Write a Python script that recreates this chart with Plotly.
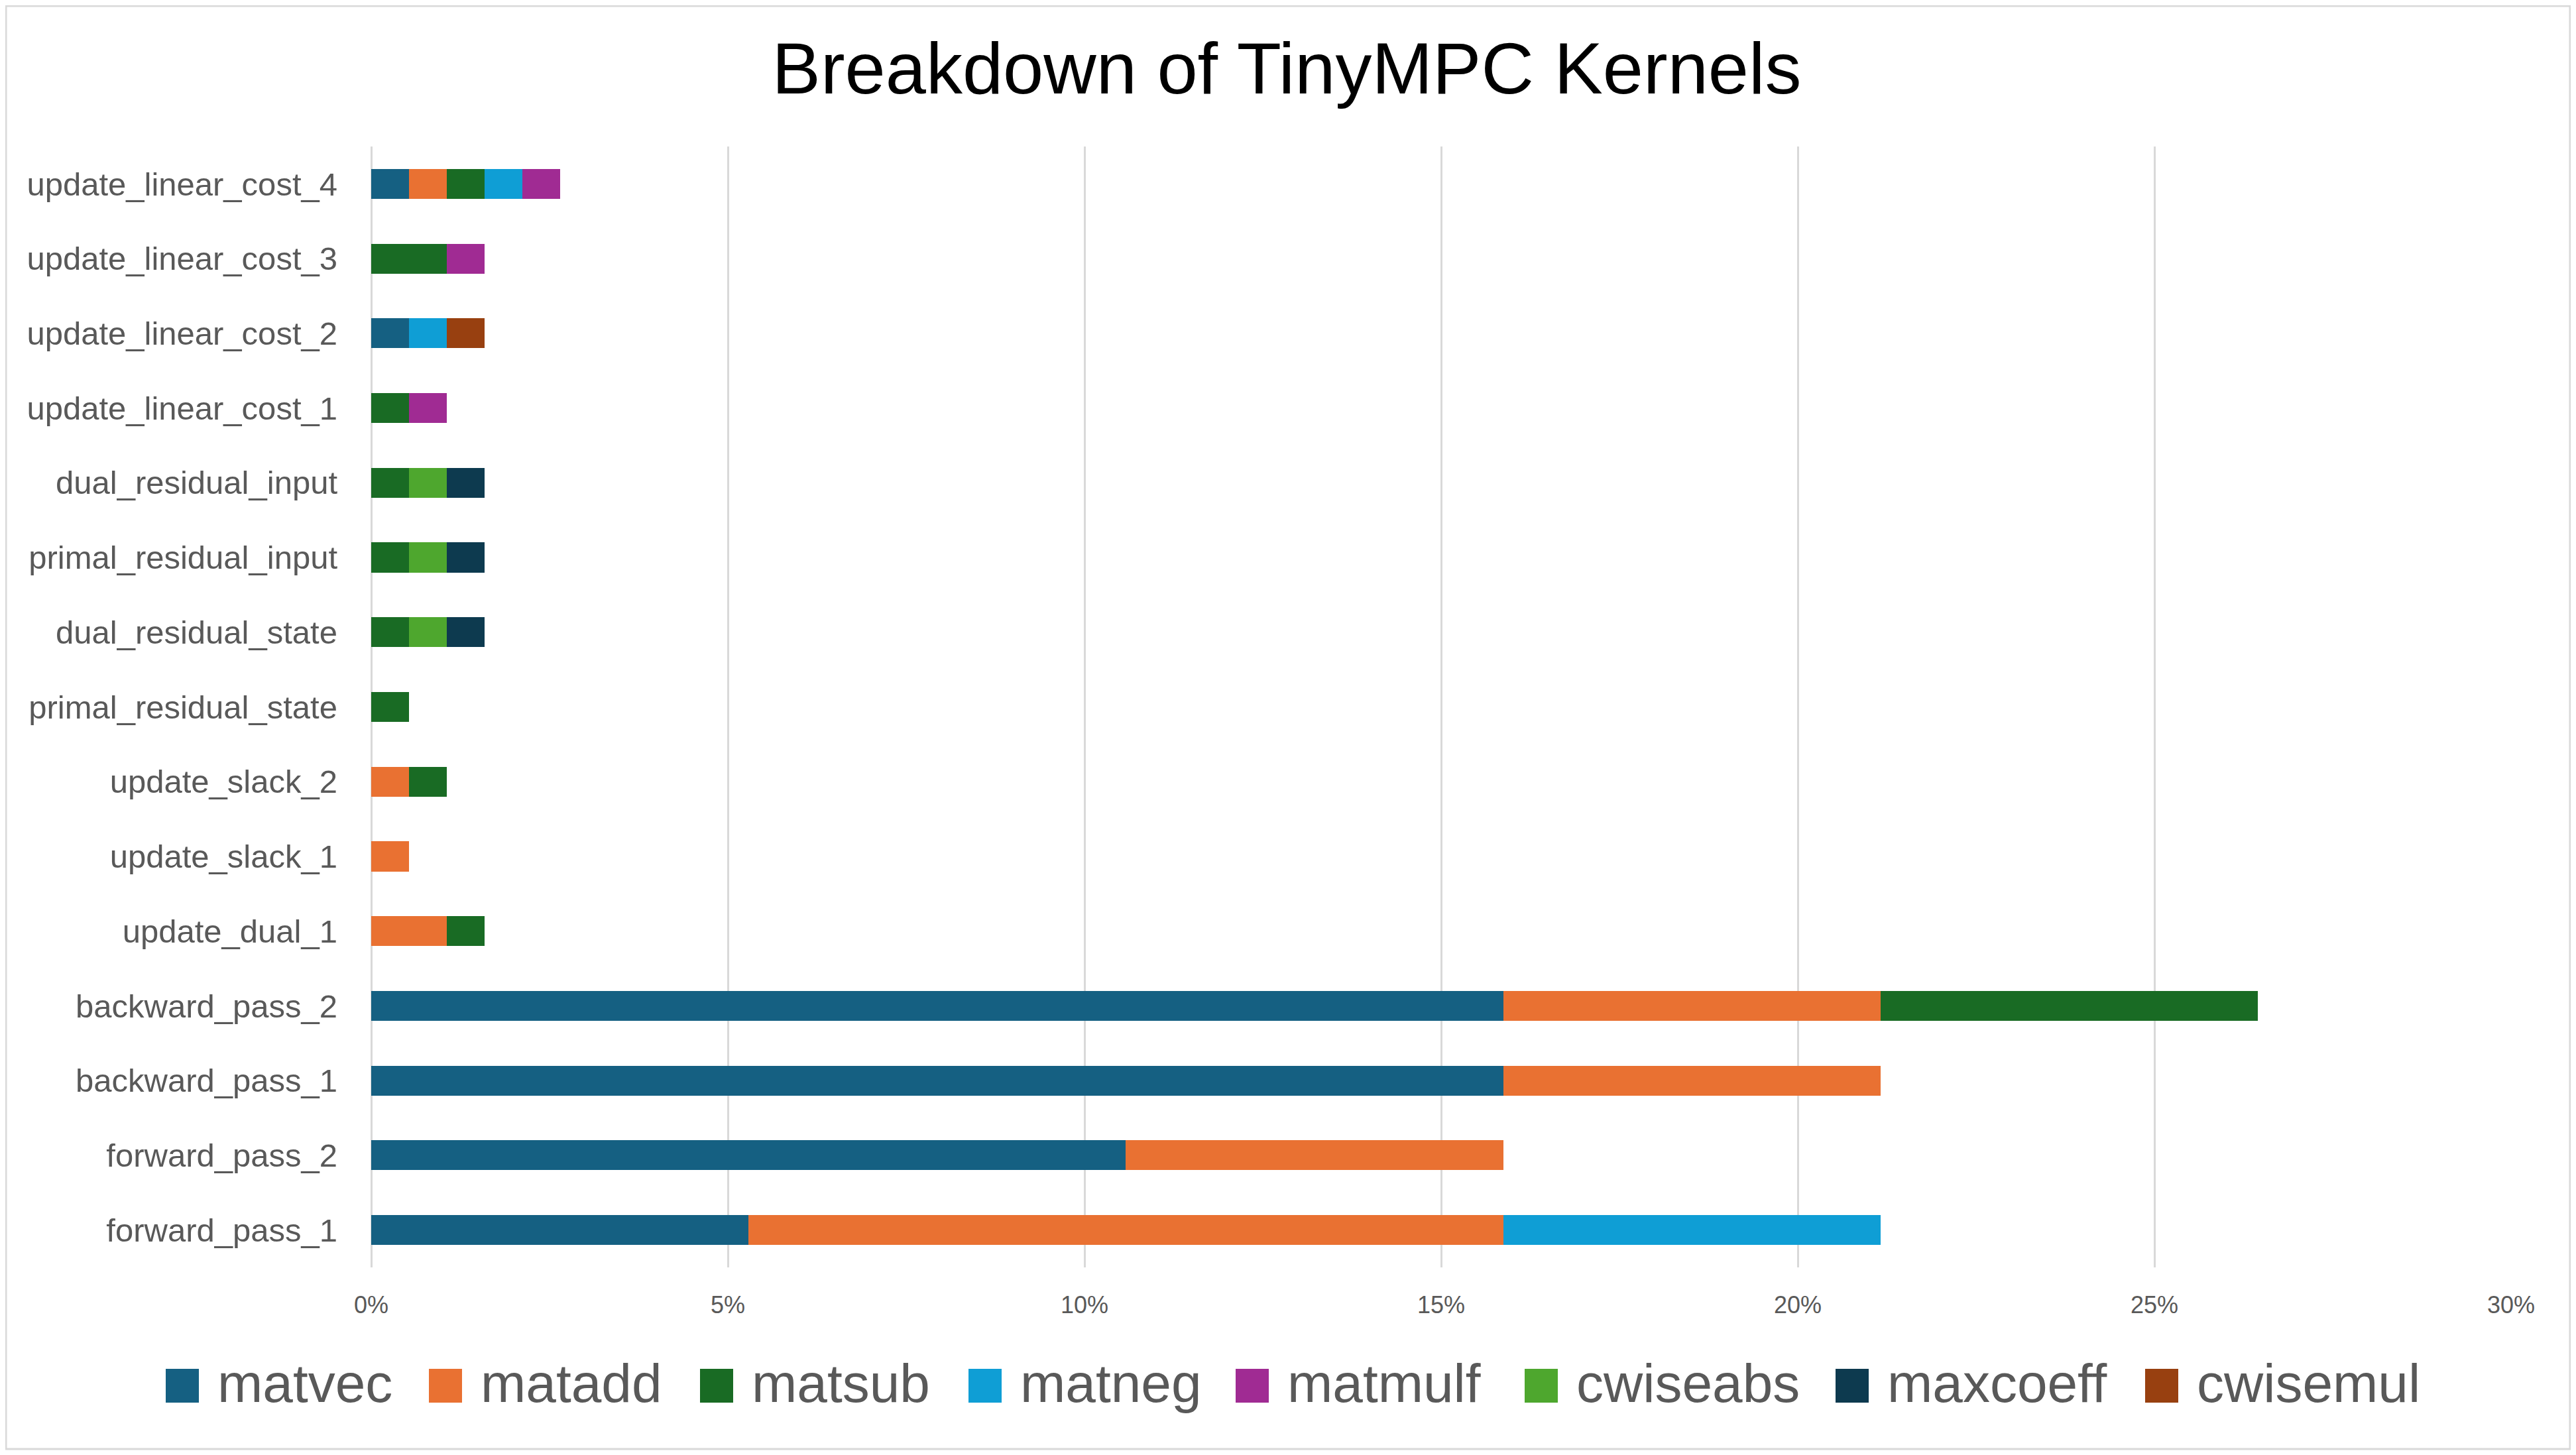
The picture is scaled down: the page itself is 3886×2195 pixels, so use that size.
import plotly.graph_objects as go

categories = ["forward_pass_1", "forward_pass_2", "backward_pass_1", "backward_pass_2",
              "update_dual_1", "update_slack_1", "update_slack_2", "primal_residual_state",
              "dual_residual_state", "primal_residual_input", "dual_residual_input",
              "update_linear_cost_1", "update_linear_cost_2", "update_linear_cost_3",
              "update_linear_cost_4"]

series_names = ["matvec", "matadd", "matsub", "matneg", "matmulf", "cwiseabs", "maxcoeff", "cwisemul"]

matvec   = [5.29, 10.58, 15.87, 15.87, 0, 0, 0, 0, 0, 0, 0, 0, 0.53, 0, 0.53]
matadd   = [10.58, 5.29, 5.29, 5.29, 1.06, 0.53, 0.53, 0, 0, 0, 0, 0, 0, 0, 0.53]
matsub   = [0, 0, 0, 5.29, 0.53, 0, 0.53, 0.53, 0.53, 0.53, 0.53, 0.53, 0, 1.06, 0.53]
matneg   = [5.29, 0, 0, 0, 0, 0, 0, 0, 0, 0, 0, 0, 0.53, 0, 0.53]
matmulf  = [0, 0, 0, 0, 0, 0, 0, 0, 0, 0, 0, 0.53, 0, 0.53, 0.53]
cwiseabs = [0, 0, 0, 0, 0, 0, 0, 0, 0.53, 0.53, 0.53, 0, 0, 0, 0]
maxcoeff = [0, 0, 0, 0, 0, 0, 0, 0, 0.53, 0.53, 0.53, 0, 0, 0, 0]
cwisemul = [0, 0, 0, 0, 0, 0, 0, 0, 0, 0, 0, 0, 0.53, 0, 0]

x_tick_vals = [0, 5, 10, 15, 20, 25, 30]
x_tick_text = ["0%", "5%", "10%", "15%", "20%", "25%", "30%"]

colors = ["#156082", "#E97132", "#196B24", "#0F9ED5", "#A02B93", "#4EA72E", "#0D3A4F", "#984010"]

series_values = [matvec, matadd, matsub, matneg, matmulf, cwiseabs, maxcoeff, cwisemul]

# ---- layout (page pixels of the target window) ----
OFF = 8                       # browser body margin
W, H = 3886 - OFF, 2195 - OFF
PLOT_L, PLOT_R, PLOT_T, PLOT_B = 560, 3788, 221, 1912   # plot area in window pixels
L = PLOT_L - OFF
T = PLOT_T - OFF
R = 3886 - PLOT_R
B = 2195 - PLOT_B
pw = W - L - R
ph = H - T - B

FONT = "Liberation Sans, Arial, sans-serif"
GREY = "#595959"


def px(xw):
    return (xw - OFF - L) / pw


def py(yw):
    return (H - B - (yw - OFF)) / ph


# custom legend layout (window pixels)
legend_swatch_left = [250, 647, 1056, 1461, 1864, 2300, 2769, 3236]
SW_W, SW_TOP, SW_BOT, TEXT_GAP, LEG_MID = 50, 2065, 2116, 28, 2086

fig = go.Figure()
for name, vals, col in zip(series_names, series_values, colors):
    fig.add_trace(go.Bar(
        y=categories, x=vals, name=name, orientation="h",
        marker=dict(color=col, line=dict(width=0)),
        showlegend=False,
    ))

shapes = [dict(
    type="rect", xref="paper", yref="paper",
    x0=px(OFF + 1), x1=px(3877),
    y0=py(2186), y1=py(OFF + 1),
    line=dict(color="#D9D9D9", width=3), fillcolor="rgba(0,0,0,0)",
    layer="below",
)]
annotations = []
for name, col, sx in zip(series_names, colors, legend_swatch_left):
    shapes.append(dict(
        type="rect", xref="paper", yref="paper",
        x0=px(sx), x1=px(sx + SW_W), y0=py(SW_BOT), y1=py(SW_TOP),
        line=dict(width=0), fillcolor=col,
    ))
    annotations.append(dict(
        text=name, xref="paper", yref="paper", showarrow=False,
        x=px(sx + SW_W + TEXT_GAP - 2), xanchor="left",
        y=py(LEG_MID), yanchor="middle",
        font=dict(family=FONT, size=82, color=GREY),
    ))

fig.update_layout(
    width=W, height=H,
    margin=dict(l=L, r=R, t=T, b=B, autoexpand=False),
    barmode="stack",
    bargap=0.6,
    showlegend=False,
    paper_bgcolor="white",
    plot_bgcolor="white",
    font=dict(family=FONT, color=GREY),
    title=dict(
        text="Breakdown of TinyMPC Kernels",
        font=dict(family=FONT, size=110, color="#000000"),
        x=(1941 - OFF) / W, xanchor="center", xref="container",
        y=1 - (102 - OFF) / H, yanchor="middle", yref="container",
    ),
    xaxis=dict(
        range=[0, 30],
        tickvals=x_tick_vals, ticktext=x_tick_text,
        showgrid=True, gridcolor="#D9D9D9", gridwidth=2.5,
        zeroline=True, zerolinecolor="#D9D9D9", zerolinewidth=2.5,
        showline=False, ticks="",
        tickfont=dict(family=FONT, size=36, color=GREY),
        ticklabelstandoff=32,
        fixedrange=True,
    ),
    yaxis=dict(
        type="category",
        categoryorder="array", categoryarray=categories,
        range=[-0.5, len(categories) - 0.5],
        showgrid=False, zeroline=False, showline=False, ticks="",
        tickfont=dict(family=FONT, size=49, color=GREY),
        ticklabelstandoff=50,
        fixedrange=True,
    ),
    shapes=shapes,
    annotations=annotations,
)

fig.write_html("out.html")
